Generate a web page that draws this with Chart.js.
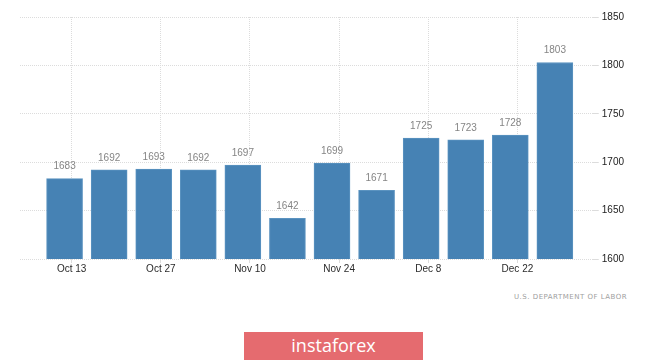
<!DOCTYPE html>
<html>
<head>
<meta charset="utf-8">
<script src="https://cdn.jsdelivr.net/npm/chart.js@4"></script>
<style>
    body { margin: 0; background: #fff; }
    #wrap { position: relative; width: 665px; height: 362px; }
    #chartBox { position: absolute; left: 0; top: 0; width: 665px; height: 285px; }
    #source {
        position: absolute; left: 514px; top: 293px;
        font-family: 'DejaVu Sans', sans-serif; font-size: 7px; letter-spacing: 0.5px;
        color: #a0a0a0; white-space: nowrap;
    }
    #logo {
        position: absolute; left: 244px; top: 332px; width: 179px; height: 28px;
        background: #e56b6f; color: #fff; text-align: center;
        font-family: 'Open Sans', sans-serif; font-size: 18px; line-height: 27px;
    }
</style>
</head>
<body>
<div id="wrap">
    <div id="chartBox"><canvas id="claims"></canvas></div>
    <div id="source">U.S. DEPARTMENT OF LABOR</div>
    <div id="logo">instaforex</div>
</div>
<script>
// weekly values, oldest first
const claims = [1683, 1692, 1693, 1692, 1697, 1642, 1699, 1671, 1725, 1723, 1728, 1803];
// date labels shown under every second bar
const tickLabels = ['Oct 13', 'Oct 27', 'Nov 10', 'Nov 24', 'Dec 8', 'Dec 22'];
const yTicks = [1600, 1650, 1700, 1750, 1800, 1850];

const points = claims.map((v, i) => ({ x: i, y: v }));

//draw the number above every bar
const barLabels = {
    id: 'barLabels',
    afterDatasetsDraw(chart) {
        const ctx = chart.ctx;
        const bars = chart.getDatasetMeta(0).data;
        ctx.save();
        ctx.font = '10px "Liberation Sans", sans-serif';
        ctx.fillStyle = '#858585';
        ctx.textAlign = 'center';
        ctx.textBaseline = 'bottom';
        bars.forEach((bar, i) => {
            ctx.fillText(claims[i], bar.x, bar.y - 7);
        });
        ctx.restore();
    }
};

const ctx = document.getElementById('claims').getContext('2d');
new Chart(ctx, {
    type: 'bar',
    data: {
        datasets: [{
            data: points,
            backgroundColor: '#4682b4',
            borderColor: '#5b93c0',
            borderWidth: 1,
            barThickness: 36
        }]
    },
    options: {
        responsive: true,
        maintainAspectRatio: false,
        animation: false,
        layout: { padding: { left: 20, top: 17, right: 38, bottom: 10 } },
        plugins: {
            legend: { display: false },
            tooltip: { enabled: false }
        },
        scales: {
            x: {
                type: 'linear',
                offset: false,
                min: -1,
                max: 11.85,
                afterBuildTicks: scale => {
                    scale.ticks = tickLabels.map((l, k) => ({ value: 2 * k + 0.16 }));
                },
                ticks: {
                    autoSkip: false,
                    maxRotation: 0,
                    padding: 0,
                    color: '#2a2a2a',
                    font: { family: '"Liberation Sans", sans-serif', size: 10 },
                    callback: (v, idx) => tickLabels[idx]
                },
                grid: {
                    offset: false,
                    color: '#dcdcdc',
                    tickLength: 4,
                    tickColor: '#dcdcdc'
                },
                border: { display: false, dash: [1, 1] }
            },
            y: {
                position: 'right',
                min: 1600,
                max: 1850,
                afterBuildTicks: scale => {
                    scale.ticks = yTicks.map(v => ({ value: v }));
                },
                ticks: {
                    padding: 3,
                    color: '#222',
                    font: { family: '"Liberation Sans", sans-serif', size: 10 },
                    callback: v => String(v)
                },
                grid: {
                    color: '#dcdcdc',
                    tickLength: 6
                },
                border: { display: false, dash: [1, 1] }
            }
        }
    },
    plugins: [barLabels]
});
</script>
</body>
</html>
